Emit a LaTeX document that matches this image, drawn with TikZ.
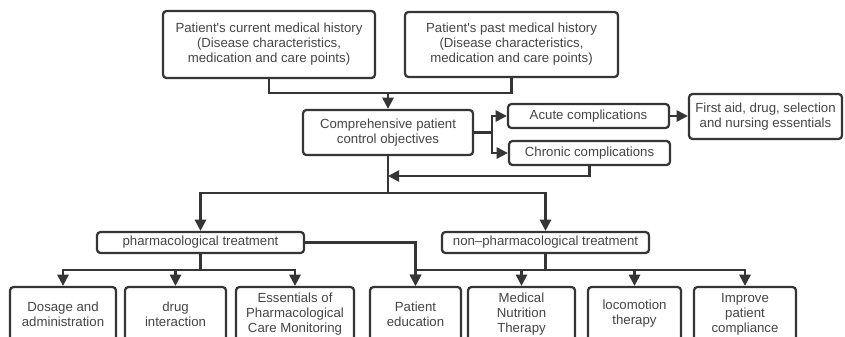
\documentclass[tikz,border=0pt]{standalone}
\usepackage{fontspec}
\setmainfont{Liberation Sans}
\usetikzlibrary{arrows.meta, positioning}
\definecolor{linegray}{HTML}{353535}
\definecolor{textgray}{HTML}{454545}

\begin{document}
\begin{tikzpicture}[x=0.025cm, y=-0.025cm, line width=1.6pt, draw=linegray,
		every node/.style={font=\fontsize{9.4}{10.7}\selectfont, text=textgray},
		box/.style={draw=linegray, fill=white, rounded corners=2.5pt, inner sep=0pt, align=center},
		arr/.style={-{Triangle[length=0.28cm, width=0.28cm]}}]
				\useasboundingbox (0,0) rectangle (845,336);

				\node[box, minimum width=5.3cm, minimum height=1.675cm] (cur) at (269,44.5) {Patient\textquotesingle s current medical history\\(Disease characteristics,\\medication and care points)};
				\node[box, minimum width=5.325cm, minimum height=1.625cm] (past) at (511.5,44.5) {Patient\textquotesingle s past medical history\\(Disease characteristics,\\medication and care points)};

				\node[box, minimum width=4.25cm, minimum height=1.125cm] (comp) at (388,132.5) {Comprehensive patient\\control objectives};
				\node[box, minimum width=4.025cm, minimum height=0.6cm] (acute) at (588.5,116) {Acute complications};
				\node[box, minimum width=4.025cm, minimum height=0.6cm] (chronic) at (589.5,153) {Chronic complications};
				\node[box, minimum width=3.825cm, minimum height=1.125cm] (aid) at (765.5,116.5) {First aid, drug, selection\\and nursing essentials};

				\node[box, minimum width=5.175cm, minimum height=0.525cm] (pharm) at (200.5,242.5) {pharmacological treatment};
				\node[box, minimum width=5.175cm, minimum height=0.525cm] (nonph) at (545.5,242.5) {non--pharmacological treatment};

				\node[box, minimum width=2.65cm, minimum height=1.35cm] (dose) at (63,314) {Dosage and\\administration};
				\node[box, minimum width=2.525cm, minimum height=1.35cm] (inter) at (175.5,314) {drug\\interaction};
				\node[box, minimum width=2.95cm, minimum height=1.35cm] (monit) at (295,314) {Essentials of\\Pharmacological\\Care Monitoring};
				\node[box, minimum width=2.275cm, minimum height=1.35cm] (educ) at (415.5,314) {Patient\\education};
				\node[box, minimum width=2.675cm, minimum height=1.35cm] (nutr) at (521.5,314) {Medical\\Nutrition\\Therapy};
				\node[box, minimum width=2.325cm, minimum height=1.35cm] (loco) at (634.5,314) {locomotion\\therapy};
				\node[box, minimum width=2.55cm, minimum height=1.35cm] (compl) at (745,314) {Improve\\patient\\compliance};

				\coordinate (j1) at (388,93);
				\coordinate (j2) at (492,132.5);
				\coordinate (j3) at (388,176);
				\coordinate (j4) at (388,193);
				\coordinate (j5) at (200.5,270);
				\coordinate (j6) at (545.5,270);

				\draw (cur.south) |- (j1) -| (past.south);
				\draw[arr] (j1) -- (comp.north);

				\draw (comp.east) -- (j2);
				\draw[arr] (j2) |- (acute.west);
				\draw[arr] (j2) |- (chronic.west);
				\draw[arr] (acute.east) -- (aid.west |- acute.east);
				\draw[arr] (chronic.south) |- (j3);

				\draw (comp.south) -- (j4);
				\draw[arr] (j4) -| (pharm.north);
				\draw[arr] (j4) -| (nonph.north);

				\draw[arr] (pharm.east) -| (educ.north);
				\draw (pharm.south) -- (j5);
				\draw[arr] (j5) -| (dose.north);
				\draw[arr] (j5) -| (inter.north);
				\draw[arr] (j5) -| (monit.north);

				\draw (nonph.south) -- (j6);
				\draw[arr] (j6) -| (educ.north);
				\draw[arr] (j6) -| (nutr.north);
				\draw[arr] (j6) -| (loco.north);
				\draw[arr] (j6) -| (compl.north);
\end{tikzpicture}
\end{document}
